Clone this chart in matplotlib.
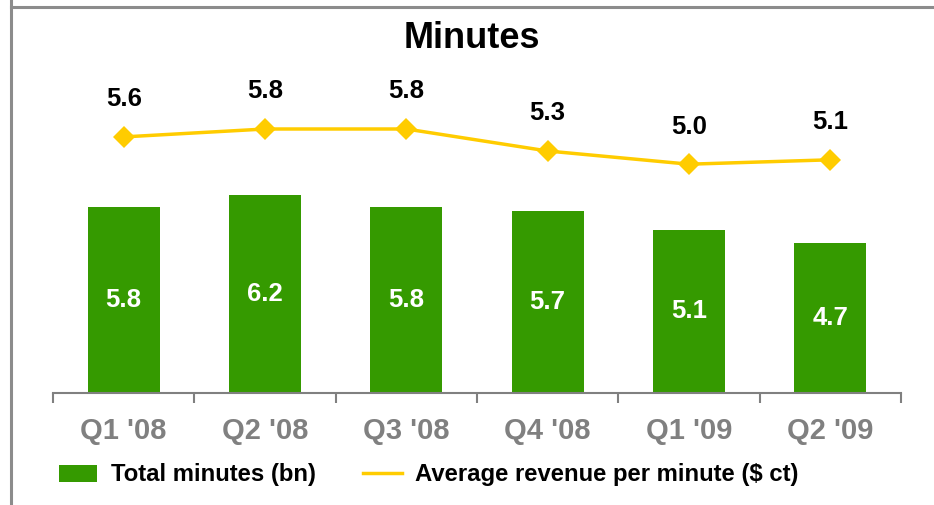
import matplotlib
matplotlib.use("Agg")
import matplotlib.pyplot as plt
from matplotlib.lines import Line2D

plt.rcParams['font.family'] = ['Liberation Sans', 'DejaVu Sans']
plt.rcParams['font.weight'] = 'bold'

quarters = ["Q1 '08", "Q2 '08", "Q3 '08", "Q4 '08", "Q1 '09", "Q2 '09"]
minutes = [5.8, 6.2, 5.8, 5.7, 5.1, 4.7]
rev_per_min = [5.62, 5.8, 5.8, 5.3, 5.0, 5.1]

green = '#359a00'
gold = '#ffcc00'
gray = '#808080'

W, H = 934, 505
fig = plt.figure(figsize=(W / 100, H / 100), dpi=100)
ax = fig.add_axes([53 / W, 1 - 393 / H, 848 / W, 333 / H])

x = list(range(len(quarters)))
bars = ax.bar(x, minutes, width=0.51, color=green, label='Total minutes (bn)')
for xi, v in zip(x, minutes):
    ax.text(xi, v / 2, f'{v:.1f}', ha='center', va='center', color='white',
            fontsize=18.5, fontweight='bold')

ax.set_xlim(-0.5, len(quarters) - 0.5)
ax.set_ylim(0, 333 / 32)
for s in ['top', 'right', 'left']:
    ax.spines[s].set_visible(False)
ax.spines['bottom'].set_color(gray)
ax.spines['bottom'].set_linewidth(1.5)
ax.set_yticks([])
ax.set_xticks([i - 0.5 for i in range(len(quarters) + 1)])
ax.set_xticklabels([])
ax.tick_params(axis='x', which='major', length=7, width=1.5, color=gray)
ax.set_xticks(x, minor=True)
ax.set_xticklabels(quarters, minor=True)
ax.tick_params(axis='x', which='minor', length=0, pad=17, labelsize=21,
               labelcolor=gray)

ax2 = ax.twinx()
ax2.set_ylim(5.8 - 264 / 44, 5.8 + 69 / 44)
ax2.plot(x, rev_per_min, color=gold, lw=2.5, marker='D', ms=11, mew=0)
for xi, v in zip(x, rev_per_min):
    ax2.annotate(f'{v:.1f}', (xi, v), xytext=(0, 27), textcoords='offset points',
                 ha='center', va='center', fontsize=18.5, fontweight='bold')
ax2.axis('off')

fig.text(472 / W, 1 - 38 / H, 'Minutes', ha='center', va='center',
         fontsize=26, fontweight='bold')

ln = Line2D([], [], color=gold, lw=2.5, label='Average revenue per minute ($ ct)')
leg = ax.legend(handles=[bars, ln], loc='center left', ncol=2,
                bbox_to_anchor=(59 / W, 1 - 475 / H), bbox_transform=fig.transFigure,
                frameon=False, fontsize=17.2, borderpad=0, borderaxespad=0,
                handlelength=1.6, handletextpad=0.56, columnspacing=2.0)

fig.add_artist(Line2D([11 / W, 11 / W], [0, 1], color='#8c8c8c', lw=2.2))
fig.add_artist(Line2D([11 / W, 1], [1 - 7 / H, 1 - 7 / H], color='#8c8c8c', lw=2.2))

fig.savefig('out.png', dpi=100)
